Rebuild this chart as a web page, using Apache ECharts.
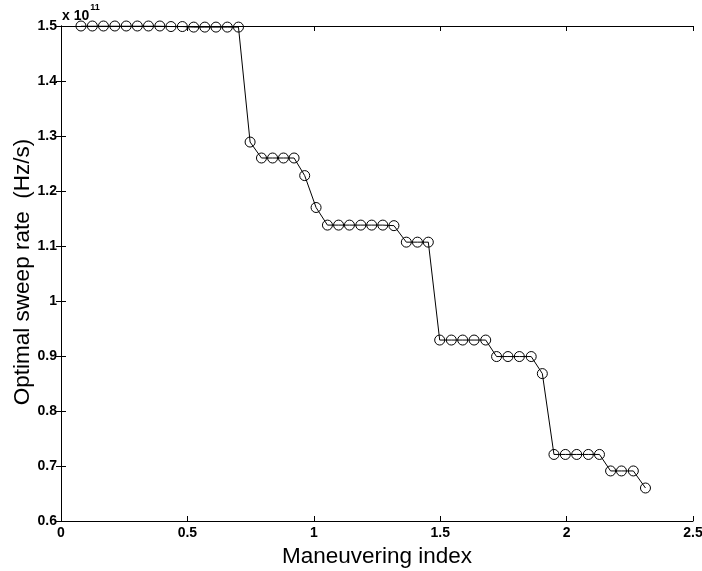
<!DOCTYPE html>
<html>
<head>
<meta charset="utf-8">
<script src="https://cdn.jsdelivr.net/npm/echarts@6/dist/echarts.min.js"></script>
<style>
  html, body { margin: 0; padding: 0; background: #fff; }
  #chart { width: 702px; height: 571px; }
</style>
</head>
<body>
<div id="chart"></div>
<script>
// Maneuvering index for each evaluated case
const maneuverIndex = [
  0.079, 0.124, 0.168, 0.213, 0.258, 0.302, 0.346, 0.391, 0.435, 0.480,
  0.525, 0.569, 0.613, 0.658, 0.702, 0.748, 0.793, 0.837, 0.880, 0.922,
  0.964, 1.009, 1.054, 1.098, 1.141, 1.186, 1.229, 1.273, 1.317, 1.366,
  1.410, 1.453, 1.498, 1.544, 1.589, 1.634, 1.680, 1.723, 1.768, 1.813,
  1.860, 1.904, 1.950, 1.995, 2.040, 2.086, 2.130, 2.174, 2.217, 2.264,
  2.312
];

// Optimal sweep rate, in units of 1e11 Hz/s
const sweepRate = [
  1.500, 1.500, 1.500, 1.500, 1.500, 1.500, 1.500, 1.500, 1.499, 1.499,
  1.498, 1.498, 1.498, 1.498, 1.498, 1.289, 1.260, 1.260, 1.260, 1.260,
  1.228, 1.170, 1.138, 1.138, 1.138, 1.138, 1.138, 1.138, 1.137, 1.107,
  1.107, 1.107, 0.929, 0.929, 0.929, 0.929, 0.929, 0.899, 0.899, 0.899,
  0.899, 0.868, 0.721, 0.721, 0.721, 0.721, 0.721, 0.691, 0.691, 0.691,
  0.660
];

const xTickLabels = ['0', '0.5', '1', '1.5', '2', '2.5'];
const yTickLabels = ['0.6', '0.7', '0.8', '0.9', '1', '1.1', '1.2', '1.3', '1.4', '1.5'];

const points = maneuverIndex.map((x, i) => [x, sweepRate[i]]);

const font = 'Liberation Sans, Arial, Helvetica, sans-serif';
const xMin = 0, xMax = 2.5, xStep = 0.5;
const yMin = 0.6, yMax = 1.5, yStep = 0.1;

const labelFromList = (list, min, step) => v => {
  const i = Math.round((v - min) / step);
  return list[i] !== undefined ? list[i] : '';
};

const axisBase = {
  type: 'value',
  axisLine: { show: true, lineStyle: { color: '#000', width: 1 } },
  axisTick: { show: true, inside: true, length: 5, lineStyle: { color: '#000' } },
  splitLine: { show: false }
};

const chart = echarts.init(document.getElementById('chart'), null, { renderer: 'canvas' });

chart.setOption({
  animation: false,
  backgroundColor: '#fff',
  grid: { left: 61, right: 9, top: 26, bottom: 50, containLabel: false, outerBoundsMode: 'none' },
  xAxis: [
    Object.assign({}, axisBase, {
      position: 'bottom', min: xMin, max: xMax, interval: xStep,
      axisLabel: {
        color: '#000', fontFamily: font, fontSize: 14, fontWeight: 'bold', margin: 5,
        formatter: labelFromList(xTickLabels, xMin, xStep)
      },
      name: 'Maneuvering index', nameLocation: 'middle', nameGap: 24,
      nameTextStyle: { color: '#000', fontFamily: font, fontSize: 22.5 }
    }),
    Object.assign({}, axisBase, {
      position: 'top', min: xMin, max: xMax, interval: xStep,
      axisLabel: { show: false }
    })
  ],
  yAxis: [
    Object.assign({}, axisBase, {
      position: 'left', min: yMin, max: yMax, interval: yStep,
      axisLabel: {
        color: '#000', fontFamily: font, fontSize: 14, fontWeight: 'bold', margin: 4,
        formatter: labelFromList(yTickLabels, yMin, yStep)
      }
    }),
    Object.assign({}, axisBase, {
      position: 'right', min: yMin, max: yMax, interval: yStep,
      axisLabel: { show: false }
    })
  ],
  graphic: [
    {
      type: 'text', left: 62, top: 3,
      style: {
        text: '{b|x 10}{s|11}',
        rich: {
          b: { fontFamily: font, fontSize: 14, fontWeight: 'bold', fill: '#000', padding: [6, 0, 0, 0] },
          s: { fontFamily: font, fontSize: 9, fontWeight: 'bold', fill: '#000', verticalAlign: 'top', padding: [0, 0, 0, 1] }
        }
      }
    },
    {
      // vertical axis title
      type: 'text', x: 23, y: 272, rotation: Math.PI / 2,
      style: {
        text: 'Optimal sweep rate  (Hz/s)',
        fontFamily: font, fontSize: 22.5, fill: '#000',
        align: 'center', verticalAlign: 'middle'
      }
    }
  ],
  series: [
    {
      type: 'line',
      xAxisIndex: 0,
      yAxisIndex: 0,
      data: points,
      symbol: 'circle',
      symbolSize: 10,
      showAllSymbol: true,
      lineStyle: { color: '#000', width: 1 },
      itemStyle: { color: 'rgba(0,0,0,0)', borderColor: '#000', borderWidth: 1 }
    }
  ]
});
</script>
</body>
</html>
